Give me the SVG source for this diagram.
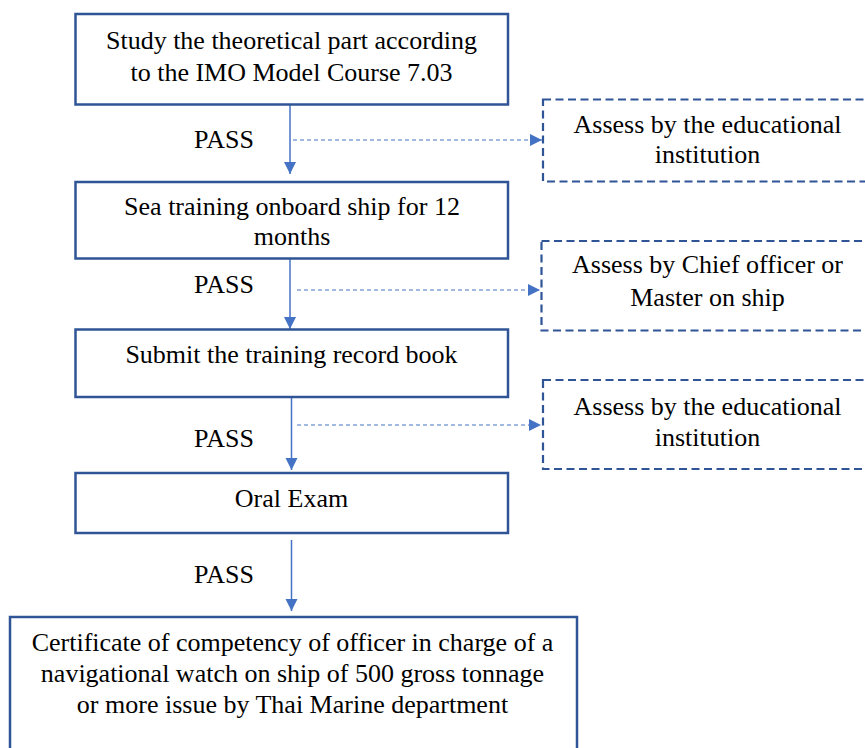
<svg xmlns="http://www.w3.org/2000/svg" width="865" height="748" viewBox="0 0 865 748">
<style>
.box{fill:#fff;stroke:#2f5597;stroke-width:2.5}
.dbox{fill:#fff;stroke:#2f5597;stroke-width:2.2;stroke-dasharray:8 4.5}
.c{stroke:#4472c4;stroke-width:1.5;fill:none}
.d{stroke:#4472c4;stroke-width:1.2;fill:none;stroke-dasharray:4 3}
.t{font-family:"Liberation Serif","Times New Roman",serif;font-size:26px;fill:#000;text-anchor:middle}
</style>
<defs>
<marker id="ah" markerUnits="userSpaceOnUse" markerWidth="14" markerHeight="14" refX="12" refY="6" orient="auto">
<path d="M0,0 L12,6 L0,12 Z" fill="#4472c4"/>
</marker>
</defs>
<rect width="865" height="748" fill="#fff"/>
<g id="connectors">
<line class="c" x1="290" y1="105" x2="290" y2="174" marker-end="url(#ah)"/>
<line class="d" x1="293" y1="140" x2="542" y2="140" marker-end="url(#ah)"/>
<line class="c" x1="290" y1="259" x2="290" y2="329" marker-end="url(#ah)"/>
<line class="d" x1="297" y1="290" x2="540" y2="290" marker-end="url(#ah)"/>
<line class="c" x1="291.5" y1="398" x2="291.5" y2="470" marker-end="url(#ah)"/>
<line class="d" x1="297" y1="425" x2="541" y2="425" marker-end="url(#ah)"/>
<line class="c" x1="291.5" y1="540" x2="291.5" y2="611" marker-end="url(#ah)"/>
<text class="t" x="224" y="148">PASS</text>
<text class="t" x="224" y="293">PASS</text>
<text class="t" x="224" y="447">PASS</text>
<text class="t" x="224" y="583">PASS</text>
</g>
<g id="node1">
<rect class="box" x="75.5" y="14" width="432.5" height="90.5"/>
<text class="t" x="291.5" y="49">Study the theoretical part according</text>
<text class="t" x="291.5" y="81">to the IMO Model Course 7.03</text>
</g>
<g id="node2">
<rect class="box" x="75.5" y="182" width="432.5" height="76.5"/>
<text class="t" x="292" y="215">Sea training onboard ship for 12</text>
<text class="t" x="292" y="245">months</text>
</g>
<g id="node3">
<rect class="box" x="75.5" y="329.5" width="432.5" height="67.5"/>
<text class="t" x="291.5" y="362.5">Submit the training record book</text>
</g>
<g id="node4">
<rect class="box" x="75.5" y="473" width="432.5" height="60"/>
<text class="t" x="291.5" y="507">Oral Exam</text>
</g>
<g id="node5">
<rect class="box" x="10" y="617" width="567" height="140"/>
<text class="t" x="292.5" y="651">Certificate of competency of officer in charge of a</text>
<text class="t" x="292.5" y="682">navigational watch on ship of 500 gross tonnage</text>
<text class="t" x="292.5" y="713">or more issue by Thai Marine department</text>
</g>
<g id="assess1">
<rect class="dbox" x="543" y="99.5" width="340" height="82"/>
<text class="t" x="707.5" y="133">Assess by the educational</text>
<text class="t" x="707.5" y="163">institution</text>
</g>
<g id="assess2">
<rect class="dbox" x="541.5" y="241" width="340" height="89.5"/>
<text class="t" x="707.5" y="273">Assess by Chief officer or</text>
<text class="t" x="707.5" y="306">Master on ship</text>
</g>
<g id="assess3">
<rect class="dbox" x="543" y="380" width="340" height="89"/>
<text class="t" x="707.5" y="415">Assess by the educational</text>
<text class="t" x="707.5" y="446">institution</text>
</g>
</svg>
